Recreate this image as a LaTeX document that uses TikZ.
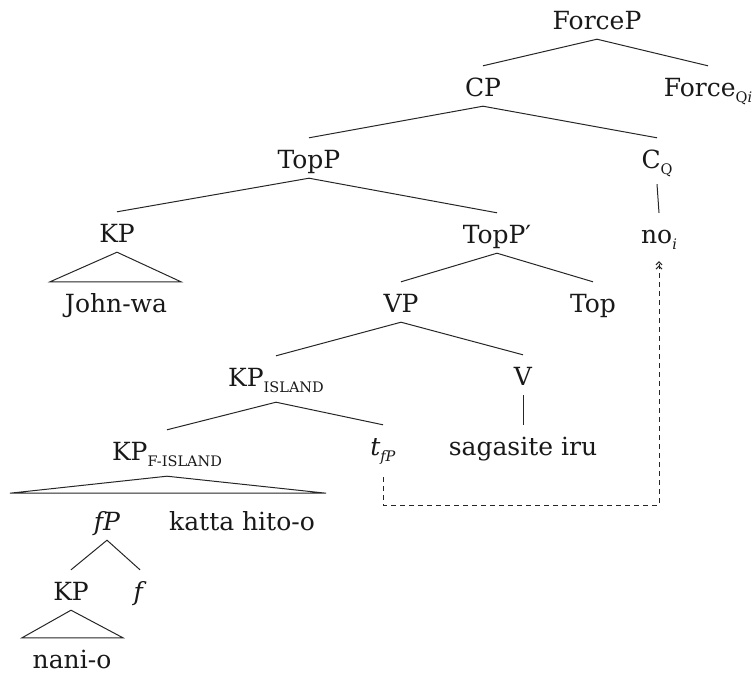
\documentclass[tikz,border=0pt]{standalone}
\usepackage{fontspec}
\setmainfont{DejaVu Serif}
\usetikzlibrary{arrows.meta}
\newcommand\subsc[1]{\raisebox{-6pt}{\fontsize{14.5}{15}\selectfont #1}}
\begin{document}
\begin{tikzpicture}[x=1pt,y=-1pt,
  lbl/.style={anchor=base, inner sep=0pt, text height=30pt, text depth=10pt,
    font=\fontsize{25}{30}\selectfont, text=black!90},
  lbls/.style={lbl, text depth=16pt},
  edge/.style={line width=1pt, draw=black!85},
  mv/.style={edge, dash pattern=on 5pt off 4pt,
    -{Straight Barb[length=3pt,width=6pt]Straight Barb[length=3pt,width=6pt]}}]
\useasboundingbox (0,0) rectangle (755,675);
\node[lbl]  (forcep) at (597,29)  {ForceP};
\node[lbl]  (cp)     at (483,96)  {CP};
\node[lbls] (force)  at (708,96)  {Force\subsc{Q\textit{i}}};
\node[lbl]  (topp)   at (309,168) {TopP};
\node[lbls] (cq)     at (657,168) {C\subsc{Q}};
\node[lbl]  (kpa)    at (117,242) {KP};
\node[lbl]  (toppb)  at (497,243) {TopP′};
\node[lbls] (no)     at (659,243) {no\subsc{\textit{i}}};
\node[lbl]  (john)   at (116,312) {John-wa};
\node[lbl]  (vp)     at (401,312) {VP};
\node[lbl]  (top)    at (593,312) {Top};
\node[lbls] (kpi)    at (276,386) {KP\subsc{ISLAND}};
\node[lbl]  (v)      at (523,385) {V};
\node[lbls] (kpf)    at (167,460) {KP\subsc{F-ISLAND}};
\node[lbls] (t)      at (383,455) {\textit{t}\subsc{\textit{fP}}};
\node[lbl]  (sag)    at (523,455) {sagasite iru};
\node[lbl]  (fp)     at (107,530) {\textit{fP}};
\node[lbl]  (katta)  at (242,530) {katta hito-o};
\node[lbl]  (kpb)    at (71,600)  {KP};
\node[lbl]  (f)      at (140,600) {\textit{f}};
\node[lbl]  (nani)   at (72,668)  {nani-o};

\draw[edge] (cp.north) -- (forcep.south) -- (force.north);
\draw[edge] (topp.north) -- (cp.south) -- (cq.north);
\draw[edge] (kpa.north) -- (topp.south) -- (toppb.north);
\draw[edge] (cq.south) -- (no.north);
\draw[edge] (kpa.south) -- ([xshift=-66pt]john.north) -- ([xshift=65pt]john.north) -- cycle;
\draw[edge] (vp.north) -- (toppb.south) -- (top.north);
\draw[edge] (kpi.north) -- (vp.south) -- (v.north);
\draw[edge] (kpf.north) -- (kpi.south) -- (t.north);
\draw[edge] (v.south) -- (sag.north);
\draw[edge] (kpf.south) -- ([xshift=-157pt,yshift=-17pt]kpf.south) -- ([xshift=159pt,yshift=-17pt]kpf.south) -- cycle;
\draw[edge] (kpb.north) -- (fp.south) -- (f.north);
\draw[edge] (kpb.south) -- ([xshift=-50pt]nani.north) -- ([xshift=51pt]nani.north) -- cycle;
\draw[mv] ([yshift=-6pt]t.south) -- ++(0,28) -| ([yshift=-2pt]no.south);
\end{tikzpicture}
\end{document}
